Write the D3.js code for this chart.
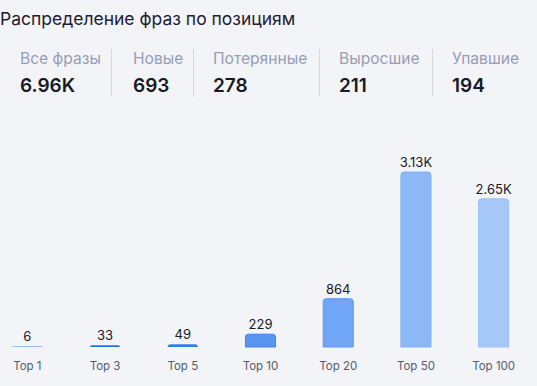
<!DOCTYPE html>
<html lang="ru">
<head>
<meta charset="utf-8">
<title>Распределение фраз по позициям</title>
<script src="https://cdn.jsdelivr.net/npm/d3@7"></script>
<style>
  html, body { margin: 0; padding: 0; background: #f3f4f8; }
  svg { display: block; font-family: Inter, "Noto Sans", sans-serif; }
</style>
</head>
<body>
<div id="chart"></div>
<script>
  // data
  var title = "Распределение фраз по позициям";
  var statLabels = ["Все фразы", "Новые", "Потерянные", "Выросшие", "Упавшие"];
  var statValues = [6960, 693, 278, 211, 194];
  var categories = ["Top 1", "Top 3", "Top 5", "Top 10", "Top 20", "Top 50", "Top 100"];
  var values = [6, 33, 49, 229, 864, 3130, 2650];
  var barColors = ["#9cbdf1", "#1f74ea", "#2f7eea", "#5894f0", "#70a6f5", "#8cb8f6", "#a6c8f8"];
  var barStrokes = ["#9cbdf1", "#1f74ea", "#2f7eea", "#3f84ee", "#5c99f3", "#7eaff5", "#9dc2f7"];

  var width = 537, height = 386;

  function fmt(v) {
    return v >= 1000 ? (v / 1000).toFixed(2) + "K" : String(v);
  }

  var svg = d3.select("#chart")
    .append("svg")
    .attr("width", width)
    .attr("height", height);

  // title
  svg.append("text")
    .attr("x", 0)
    .attr("y", 25)
    .attr("font-size", 17.5)
    .attr("fill", "#1d2030")
    .text(title);

  // stats row
  var statX = [20, 133, 213, 339, 452];
  var sepX = [111, 193, 319, 432];

  svg.selectAll(".sep")
    .data(sepX)
    .enter()
      .append("line")
      .attr("x1", function(d){ return d + 0.5; })
      .attr("x2", function(d){ return d + 0.5; })
      .attr("y1", 49)
      .attr("y2", 97)
      .attr("stroke", "#d3d7e2");

  svg.selectAll(".statLabel")
    .data(statLabels)
    .enter()
      .append("text")
      .attr("x", function(d, i){ return statX[i]; })
      .attr("y", 64)
      .attr("font-size", 15.6)
      .attr("fill", "#979db4")
      .text(function(d){ return d; });

  svg.selectAll(".statValue")
    .data(statValues)
    .enter()
      .append("text")
      .attr("x", function(d, i){ return statX[i]; })
      .attr("y", 92)
      .attr("font-size", 19)
      .attr("font-weight", 600)
      .attr("fill", "#171a24")
      .text(function(d){ return fmt(d); });

  // bars
  var baseY = 347;
  var xScale = d3.scaleBand()
    .domain(categories)
    .range([-11, 532])
    .paddingInner(0.613)
    .paddingOuter(0.3);

  var yScale = d3.scaleLinear()
    .domain([0, d3.max(values)])
    .range([baseY, 172]);

  function barPath(d, i) {
    var x = xScale(categories[i]);
    var w = xScale.bandwidth();
    var h = Math.max(baseY - yScale(d), 1);
    var r = Math.min(3, h);
    var y = baseY - h;
    return "M" + x + "," + baseY +
      "V" + (y + r) +
      "Q" + x + "," + y + " " + (x + r) + "," + y +
      "H" + (x + w - r) +
      "Q" + (x + w) + "," + y + " " + (x + w) + "," + (y + r) +
      "V" + baseY + "Z";
  }

  svg.selectAll(".bar")
    .data(values)
    .enter()
      .append("path")
      .attr("d", barPath)
      .attr("fill", function(d, i){ return barColors[i]; })
      .attr("stroke", function(d, i){ return barStrokes[i]; })
      .attr("stroke-width", function(d){ return (baseY - yScale(d)) > 4 ? 1 : 0; });

  svg.selectAll(".valueLabel")
    .data(values)
    .enter()
      .append("text")
      .attr("x", function(d, i){ return xScale(categories[i]) + xScale.bandwidth() / 2; })
      .attr("y", function(d){ return Math.min(yScale(d), baseY - 1) - 5; })
      .attr("text-anchor", "middle")
      .attr("font-size", 13)
      .attr("fill", "#171a24")
      .text(function(d){ return fmt(d); });

  svg.selectAll(".catLabel")
    .data(categories)
    .enter()
      .append("text")
      .attr("x", function(d){ return xScale(d) + xScale.bandwidth() / 2; })
      .attr("y", 370)
      .attr("text-anchor", "middle")
      .attr("font-size", 11.5)
      .attr("fill", "#555b6b")
      .text(function(d){ return d; });
</script>
</body>
</html>
